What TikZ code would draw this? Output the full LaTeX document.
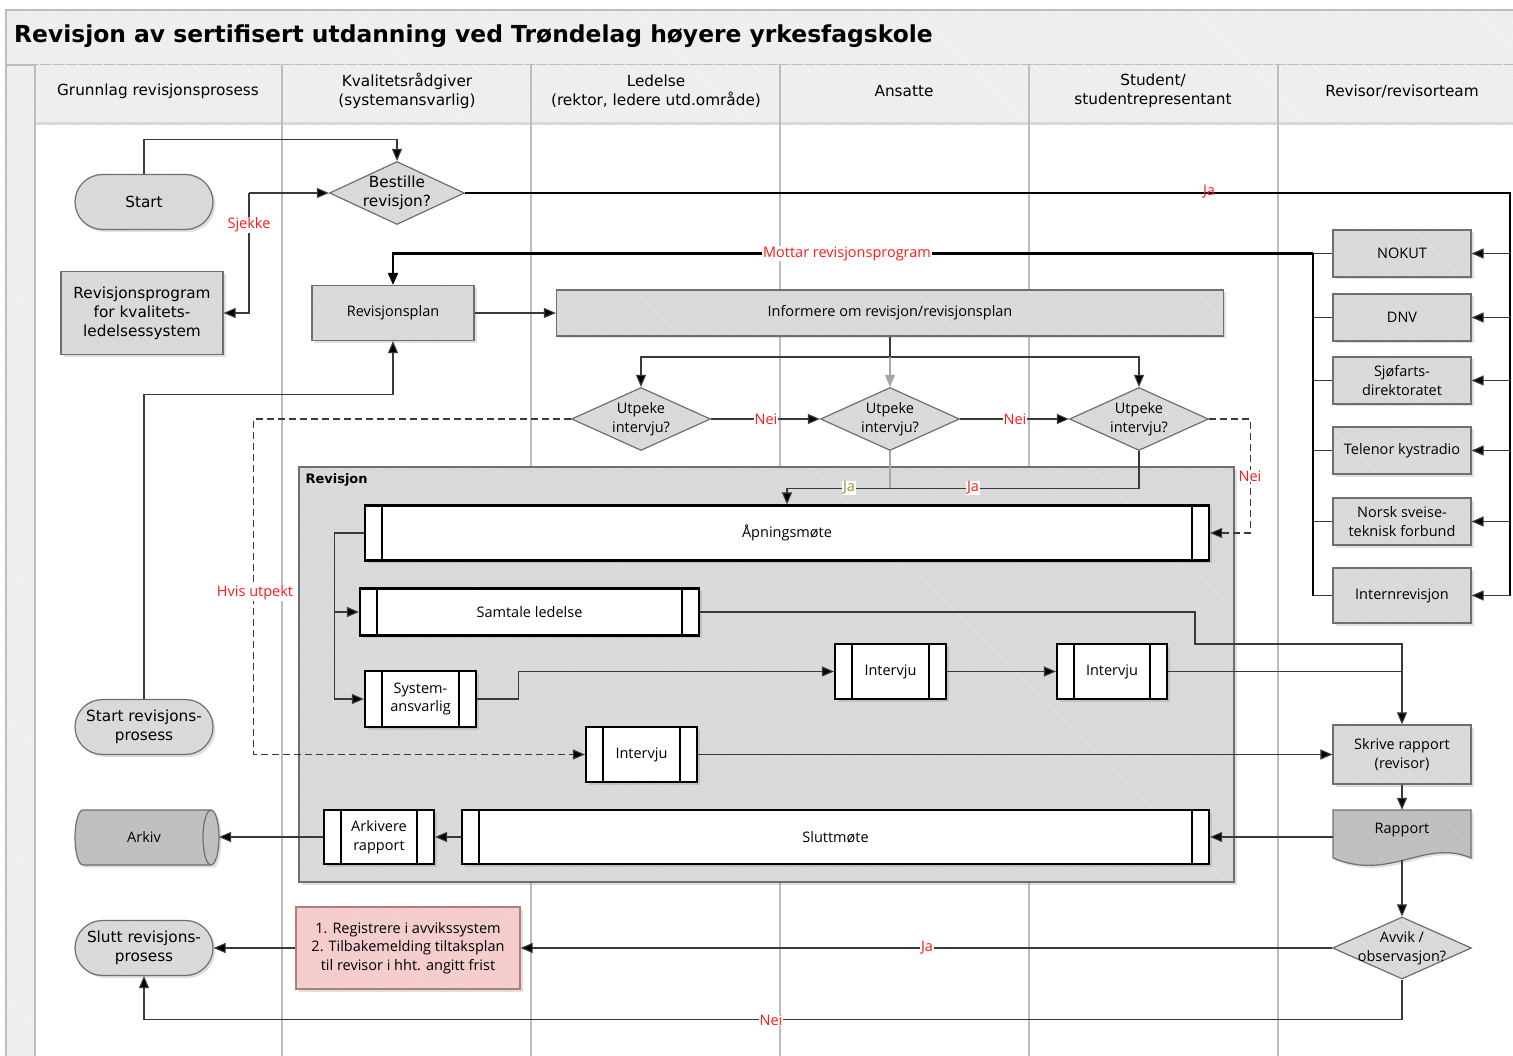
\documentclass[tikz,border=0pt]{standalone}
\usepackage{fontspec}
\setmainfont{Open Sans}
\newfontfamily\vfont{DejaVu Sans}
\usetikzlibrary{arrows.meta,shapes.geometric,shadows,patterns.meta}
\definecolor{ngray}{HTML}{D9D9D9}
\definecolor{dgray}{HTML}{BFBFBF}
\definecolor{bgray}{HTML}{6F6F6F}
\definecolor{lgray}{HTML}{BDBDBD}
\definecolor{band}{HTML}{EEEEEE}
\definecolor{cline}{HTML}{3A3A3A}
\definecolor{lred}{HTML}{FF1A1A}
\definecolor{olivej}{HTML}{9E8A3C}
\definecolor{pinkf}{HTML}{F4CCCC}
\definecolor{pinkb}{HTML}{B27C7C}
\definecolor{arrgray}{HTML}{A6A6A6}
\definecolor{hng}{HTML}{E1E1E1}
\definecolor{hdg}{HTML}{C7C7C7}
\definecolor{hbd}{HTML}{F4F4F4}
\definecolor{hpk}{HTML}{F8D6D6}
\tikzset{
  sfnt/.style={font=\fontsize{14.5}{18.5}\selectfont},
  vfnt/.style={font=\vfont\fontsize{15.3}{19}\selectfont},
  hfill/.style n args={2}{preaction={fill=#1},pattern={Lines[angle=-45,distance=9pt,line width=0.6pt]},pattern color=#2},
  shd/.style={drop shadow={opacity=0.25,shadow xshift=2.5pt,shadow yshift=-2.5pt}},
  proc/.style={sfnt,align=center,inner sep=0pt,draw=bgray,shd,hfill={ngray}{hng},line width=1.2pt},
  procv/.style={proc,vfnt},
  term/.style={vfnt,align=center,inner sep=0pt,draw=bgray,shd,hfill={ngray}{hng},line width=1.2pt,rounded corners=27.5pt,minimum width=138pt,minimum height=55pt},
  dec/.style={inner sep=0pt,diamond,draw=bgray,hfill={ngray}{hng},line width=1.2pt,minimum width=139pt,minimum height=63pt,aspect=2.2},
  dtxt/.style={sfnt,align=center,inner sep=0pt},
  sub/.style={sfnt,align=center,inner sep=0pt,draw=black,fill=white,line width=2.2pt,shd,
     path picture={\draw[line width=2pt,black] ([xshift=17pt]path picture bounding box.north west) -- ([xshift=17pt]path picture bounding box.south west);
       \draw[line width=2pt,black] ([xshift=-17pt]path picture bounding box.north east) -- ([xshift=-17pt]path picture bounding box.south east);}},
  conn/.style={draw=cline,line width=1.1pt},
  thk/.style={draw=black,line width=2.3pt},
  tip/.style={-{Triangle[length=12pt,width=10pt,fill=black]}},
  dsh/.style={dash pattern=on 7pt off 4pt},
  lbl/.style={sfnt,text=lred,fill=white,inner sep=0.8pt},
}
\begin{document}
\begin{tikzpicture}[x=1pt,y=-1pt]
\useasboundingbox[fill=white] (0,0) rectangle (1513,1056);
% title band
\draw[hfill={band}{hbd},draw=lgray,line width=1.2pt] (6,10) rectangle (1520,65);
\node[anchor=west,inner sep=0pt,font=\vfont\bfseries\fontsize{23.4}{28}\selectfont] (title) at (14,36) {Revisjon av sertifisert utdanning ved Trøndelag høyere yrkesfagskole};
% left strip
\draw[hfill={band}{hbd},draw=lgray,line width=1.2pt] (6,65) rectangle (35,1060);
% header row
\path[drop shadow={opacity=0.3,shadow xshift=0pt,shadow yshift=-3pt},hfill={band}{hbd}] (35,65) rectangle (1520,122);
\foreach \x in {35,282,531,780,1029,1278}{\draw[lgray,line width=1.4pt] (\x,65) -- (\x,1060);}
\node[vfnt,align=center] (h1) at (158,91) {Grunnlag revisjonsprosess};
\node[vfnt,align=center] (h2) at (407,91) {Kvalitetsrådgiver\\(systemansvarlig)};
\node[vfnt,align=center] (h3) at (656,91) {Ledelse\\(rektor, ledere utd.område)};
\node[vfnt,align=center] (h4) at (904,91) {Ansatte};
\node[vfnt,align=center] (h5) at (1153,91) {Student/\\studentrepresentant};
\node[vfnt,align=center] (h6) at (1402,91) {Revisor/revisorteam};
% container
\draw[shd,hfill={ngray}{hng},draw=bgray,line width=1.2pt] (299,467) rectangle (1234,882);
\node[anchor=west,font=\vfont\bfseries\fontsize{13}{16}\selectfont] (revlbl) at (302,480) {Revisjon};
% nodes left lanes
\node[term] (start) at (144,202) {Start};
\node[dec,minimum width=135pt] (best) at (397,193) {};
\node[dtxt,vfnt] (bestt) at (best) {Bestille\\revisjon?};
\node[procv,minimum width=162pt,minimum height=83pt] (rprog) at (142,313) {Revisjonsprogram\\for kvalitets-\\ledelsessystem};
\node[proc,minimum width=162pt,minimum height=55pt] (rplan) at (393,313) {Revisjonsplan};
\node[proc,minimum width=667pt,minimum height=46pt] (inform) at (890,313) {Informere om revisjon/revisjonsplan};
\node[dec] (u1) at (641,419) {};
\node[dtxt] (u1t) at (u1) {Utpeke\\intervju?};
\node[dec] (u2) at (890,419) {};
\node[dtxt] (u2t) at (u2) {Utpeke\\intervju?};
\node[dec] (u3) at (1139,419) {};
\node[dtxt] (u3t) at (u3) {Utpeke\\intervju?};
\node[term] (srp) at (144,727) {Start revisjons-\\prosess};
\node[term] (slutt) at (144,948) {Slutt revisjons-\\prosess};
% subprocesses
\node[sub,minimum width=844pt,minimum height=55pt] (apn) at (787,533) {Åpningsmøte};
\node[sub,minimum width=339pt,minimum height=47pt] (samt) at (529.5,612) {Samtale ledelse};
\node[sub,minimum width=111pt,minimum height=56pt] (sysan) at (420.5,699) {System-\\ansvarlig};
\node[sub,minimum width=111pt,minimum height=55pt] (int1) at (890.5,671.5) {Intervju};
\node[sub,minimum width=110pt,minimum height=55pt] (int2) at (1112,671.5) {Intervju};
\node[sub,minimum width=111pt,minimum height=55pt] (int3) at (641.5,754.5) {Intervju};
\node[sub,minimum width=110pt,minimum height=54pt] (arkr) at (379,837) {Arkivere\\rapport};
\node[sub,minimum width=747pt,minimum height=54pt] (slutm) at (835.5,837) {Sluttmøte};
% arkiv
\node[minimum width=144pt,minimum height=55pt,inner sep=0pt] (arkiv) at (147,837.5) {};
\draw[shd,hfill={dgray}{hdg},draw=bgray,line width=1.2pt] (83,810) -- (211,810) arc[start angle=-90,end angle=90,x radius=8pt,y radius=-27.5pt] -- (83,865) arc[start angle=90,end angle=270,x radius=8pt,y radius=-27.5pt] -- cycle;
\draw[bgray,line width=1.2pt] (211,810) arc[start angle=-90,end angle=-270,x radius=8pt,y radius=-27.5pt];
\node[sfnt] (arkivt) at (144,837) {Arkiv};
% pink box
\node[proc,hfill={pinkf}{hpk},draw=pinkb,minimum width=224pt,minimum height=82pt] (red) at (408,948) {1. Registrere i avvikssystem\\2. Tilbakemelding tiltaksplan\\til revisor i hht. angitt frist};
% right column
\node[proc,minimum width=138pt,minimum height=47pt] (nokut) at (1402,253.5) {NOKUT};
\node[proc,minimum width=138pt,minimum height=47pt] (dnv) at (1402,317.5) {DNV};
\node[proc,minimum width=138pt,minimum height=47pt] (sjo) at (1402,380.5) {Sjøfarts-\\direktoratet};
\node[proc,minimum width=138pt,minimum height=47pt] (tele) at (1402,450.5) {Telenor kystradio};
\node[proc,minimum width=138pt,minimum height=47pt] (norsk) at (1402,521.5) {Norsk sveise-\\teknisk forbund};
\node[proc,minimum width=138pt,minimum height=55pt] (intern) at (1402,595.5) {Internrevisjon};
\node[proc,minimum width=138pt,minimum height=59pt] (skriv) at (1402,754.5) {Skrive rapport\\(revisor)};
\node[minimum width=138pt,minimum height=54pt,inner sep=0pt] (rapport) at (1402,837) {};
\draw[shd,hfill={dgray}{hdg},draw=bgray,line width=1.2pt] (1333,810) -- (1471,810) -- (1471,858) .. controls (1425,838) and (1390,882) .. (1333,858) -- cycle;
\node[sfnt] (rapt) at (1402,830) {Rapport};
\node[dec,minimum width=139pt,minimum height=62pt] (avvik) at (1402,948) {};
\node[dtxt] (avvikt) at (avvik) {Avvik /\\observasjon?};
% connectors
\draw[conn,tip] (start.north) -- ++(0,-34) -| (best.north);
\coordinate (rtop) at (1510,193);
\coordinate (rbot) at (1510,595.5);
\draw[thk] (best.east) -- (rtop) -- (rbot);
\foreach \b in {nokut,dnv,sjo,tele,norsk,intern}{\draw[conn,tip] (rtop |- \b.east) -- (\b.east);}
\coordinate (lcol) at (1313,253.5);
\foreach \b in {nokut,dnv,sjo,tele,norsk,intern}{\draw[conn] (\b.west) -- (lcol |- \b.west);}
\draw[thk] (lcol) -- (lcol |- intern.west);
\draw[thk,tip] (lcol) -| (rplan.north);
\coordinate (sj) at (249,193);
\draw[conn,tip] (sj) -- (best.west);
\draw[conn,tip] (sj) |- (rprog.east);
\draw[conn,tip] (rplan.east) -- (inform.west);
\draw[conn,tip] (srp.north) -- ++(0,-304) -| (rplan.south);
\coordinate (split) at (890,357);
\draw[conn] (inform.south) -- (split);
\draw[conn,tip] (split) -| (u1.north);
\draw[conn,tip] (split) -| (u3.north);
\draw[draw=arrgray,line width=1.1pt,-{Triangle[length=12pt,width=10pt,fill=arrgray]}] (split) -- (u2.north);
\draw[conn,tip] (u1.east) -- (u2.west);
\draw[conn,tip] (u2.east) -- (u3.west);
\draw[conn,dsh,tip] (u3.east) -- ++(41,0) |- (apn.east);
\draw[draw=arrgray,line width=1.1pt] (u2.south) -- ++(0,37);
\draw[conn,tip] (u3.south) -- ++(0,37) -| (apn.north);
\draw[conn,dsh,tip] (u1.west) -- ++(-317,0) |- (int3.west);
\draw[conn,tip] (apn.west) -- ++(-29,0) |- (samt.west);
\draw[conn,tip] (apn.west) -- ++(-29,0) |- (sysan.west);
\coordinate (k1) at (1195,644);
\draw[conn,tip] (samt.east) -| (k1) -| (skriv.north);
\draw[conn,tip] (sysan.east) -- ++(41,0) |- (int1.west);
\draw[conn,tip] (int1.east) -- (int2.west);
\draw[conn] (int2.east) -- (int2.east -| skriv.north);
\draw[conn,tip] (int3.east) -- (skriv.west);
\draw[conn,tip] (skriv.south) -- (rapport.north);
\draw[conn,tip] (rapport.west) -- (slutm.east);
\draw[conn,tip] (slutm.west) -- (arkr.east);
\draw[conn,tip] (arkr.west) -- (219,837);
\draw[conn,tip] (1402,860) -- (avvik.north);
\draw[conn,tip] (avvik.west) -- (red.east);
\draw[conn,tip] (red.west) -- (slutt.east);
\draw[conn,tip] (avvik.south) -- ++(0,40) -| (slutt.south);
% labels
\node[sfnt,text=lred] (lja1) at (1209,192) {Ja};
\node[lbl] (lmot) at (847,253.5) {Mottar revisjonsprogram};
\node[lbl] (lsj) at (249,225) {Sjekke};
\node[lbl] (lnei1) at (766,419) {Nei};
\node[lbl] (lnei2) at (1015,419) {Nei};
\node[lbl] (lnei3) at (1250,476) {Nei};
\node[lbl,text=olivej] (lja2) at (849,488) {Ja};
\node[lbl] (lja3) at (973,488) {Ja};
\node[lbl] (lhvis) at (255,593) {Hvis utpekt};
\node[lbl] (lja4) at (927,948) {Ja};
\node[lbl] (lnei4) at (771,1020) {Nei};
\end{tikzpicture}
\end{document}
